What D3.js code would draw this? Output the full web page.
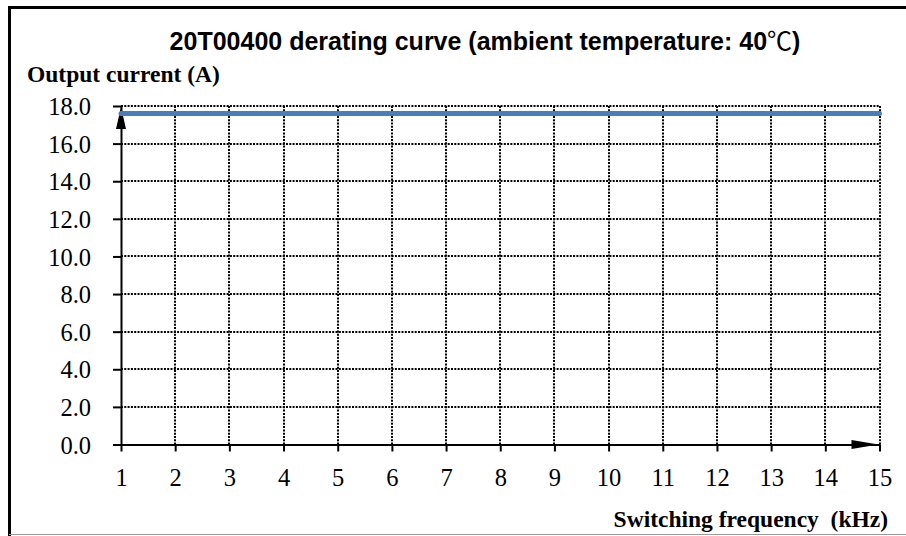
<!DOCTYPE html>
<html><head><meta charset="utf-8">
<script src="https://cdn.jsdelivr.net/npm/d3@7"></script>
<style>body{margin:0;background:#fff}svg{display:block}</style>
</head><body>
<svg id="c" width="906" height="536"></svg>
<script>
const titleMain = "20T00400 derating curve (ambient temperature: 40";
const titleUnit = "℃";
const titleEnd = ")";
const yAxisTitle = "Output current (A)";
const xAxisTitle = "Switching frequency\u00a0\u00a0(kHz)";
const frequencies = [1,2,3,4,5,6,7,8,9,10,11,12,13,14,15];
const currents = [17.6,17.6,17.6,17.6,17.6,17.6,17.6,17.6,17.6,17.6,17.6,17.6,17.6,17.6,17.6];
const yTicks = [0,2,4,6,8,10,12,14,16,18];

const svg = d3.select("#c");
const x = d3.scaleLinear().domain([1,15]).range([121,879.5]);
const y = d3.scaleLinear().domain([0,18]).range([444.5,106]);
const serif = "'Liberation Serif','Times New Roman',serif";

// frame
svg.append("rect").attr("x",0).attr("y",0).attr("width",906).attr("height",536).attr("fill","#fff");
svg.append("line").attr("x1",9.5).attr("x2",906).attr("y1",7.5).attr("y2",7.5).attr("stroke","#000").attr("stroke-width",3);
svg.append("line").attr("x1",9.5).attr("x2",9.5).attr("y1",6).attr("y2",536).attr("stroke","#000").attr("stroke-width",3);
svg.append("line").attr("x1",9).attr("x2",906).attr("y1",534.5).attr("y2",534.5).attr("stroke","#999").attr("stroke-width",1);

// gridlines
const g = svg.append("g");
g.selectAll(".hg").data(yTicks.filter(d=>d>0)).join("line")
  .attr("x1",x(1)).attr("x2",x(15)).attr("y1",d=>Math.round(y(d))).attr("y2",d=>Math.round(y(d)))
  .attr("stroke","#000").attr("stroke-width",2).attr("stroke-dasharray","2,1.3");
g.selectAll(".vg").data(frequencies.filter(d=>d>1)).join("line")
  .attr("x1",d=>Math.round(x(d))).attr("x2",d=>Math.round(x(d))).attr("y1",y(18)).attr("y2",y(0))
  .attr("stroke","#000").attr("stroke-width",2).attr("stroke-dasharray","2,1.3");

// axes
const xAxis = d3.axisBottom(x).tickValues(frequencies).tickFormat(d3.format("d")).tickSize(7).tickSizeOuter(0);
const yAxis = d3.axisLeft(y).tickValues(yTicks).tickFormat(d3.format(".1f")).tickSize(8).tickSizeOuter(0);
const gx = svg.append("g").attr("transform",`translate(0,${y(0)})`).call(xAxis);
const gy = svg.append("g").attr("transform",`translate(${x(1)},0)`).call(yAxis);
[gx,gy].forEach(a=>{
  a.attr("font-size",null).attr("font-family",null);
  a.select(".domain").attr("stroke","#000").attr("stroke-width",2);
  a.selectAll(".tick line").attr("stroke","#000").attr("stroke-width",2);
  a.selectAll("text").attr("fill","#000").style("font-family",serif).style("font-size","24.5px").style("font-weight","normal");
});
gx.selectAll("text").attr("dy",null).attr("y",41.5);
gy.selectAll("text").attr("x",-30).attr("dy","0.35em");

// arrows
svg.append("path")
  .attr("d",`M${x(1)},${y(18)+1} L${x(1)-5},${y(18)+23} L${x(1)+5},${y(18)+23} Z`).attr("fill","#000");
svg.append("path")
  .attr("d",`M${x(15)-1},${y(0)} L${x(15)-28},${y(0)-4.5} L${x(15)-28},${y(0)+4.5} Z`).attr("fill","#000");

// series
const line = d3.line().x((d,i)=>x(frequencies[i])).y(d=>y(d));
svg.append("path").datum(currents).attr("d",line).attr("fill","none")
  .attr("stroke","#4a7ebb").attr("stroke-width",5).attr("stroke-linecap","round");

// texts
const t = svg.append("text").attr("x",485).attr("y",50).attr("text-anchor","middle")
  .style("font-family","'Liberation Sans',Arial,sans-serif").style("font-weight","bold").style("font-size","25px");
t.append("tspan").text(titleMain);
t.append("tspan").style("font-family","'Noto Sans CJK SC',sans-serif").style("font-weight","normal").text(titleUnit);
t.append("tspan").text(titleEnd);
svg.append("text").attr("x",27).attr("y",82)
  .style("font-family",serif).style("font-weight","bold").style("font-size","23.5px").text(yAxisTitle);
svg.append("text").attr("x",888).attr("y",527).attr("text-anchor","end")
  .style("font-family",serif).style("font-weight","bold").style("font-size","23.5px").text(xAxisTitle);
</script>
</body></html>
